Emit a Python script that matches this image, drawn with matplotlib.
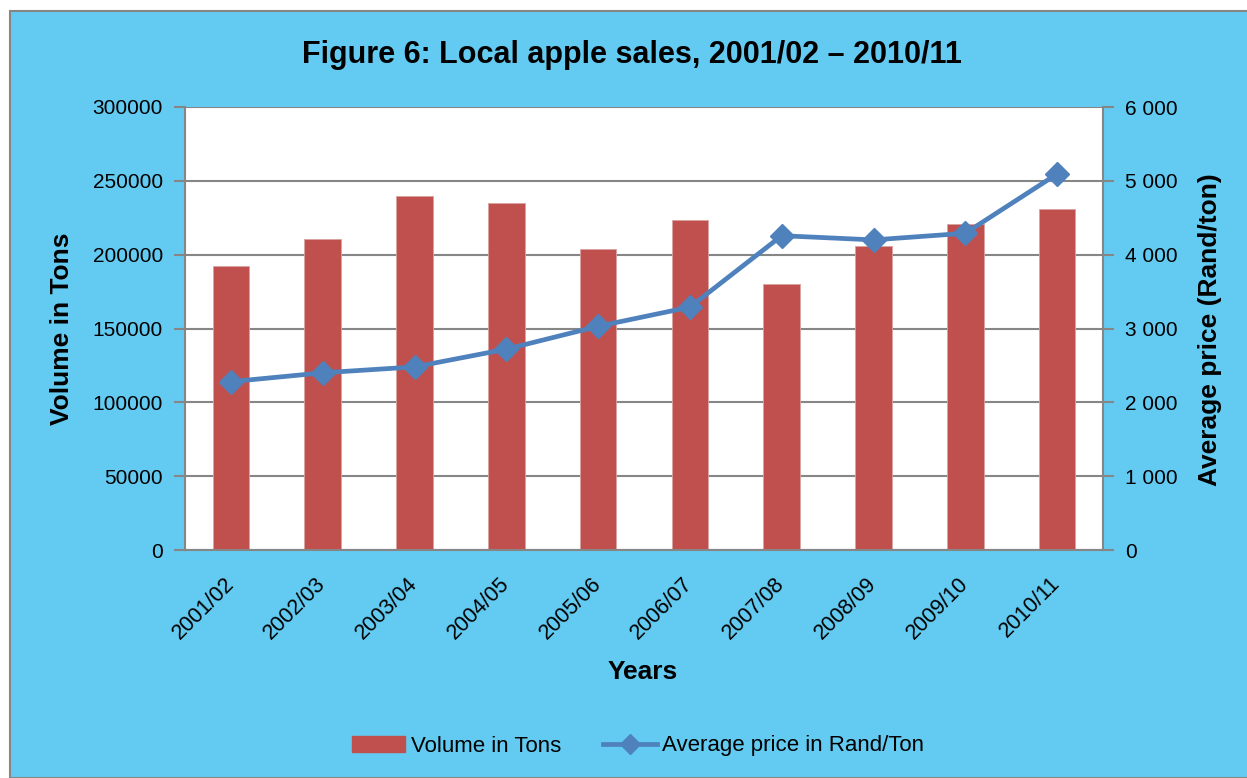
import matplotlib
matplotlib.use("Agg")
import matplotlib.pyplot as plt
from matplotlib.patches import Rectangle, Patch
from matplotlib.lines import Line2D
from matplotlib import font_manager
import numpy as np

years = ["2001/02", "2002/03", "2003/04", "2004/05", "2005/06",
         "2006/07", "2007/08", "2008/09", "2009/10", "2010/11"]
volume = [192300, 210400, 239700, 235200, 203800,
          223500, 180300, 205700, 220800, 231100]
price = [2280, 2400, 2480, 2720, 3030, 3290, 4257, 4200, 4290, 5093]
vol_ticks = [0, 50000, 100000, 150000, 200000, 250000, 300000]
price_ticks = [0, 1000, 2000, 3000, 4000, 5000, 6000]
price_tick_labels = ["0", "1 000", "2 000", "3 000", "4 000", "5 000", "6 000"]

names = {f.name for f in font_manager.fontManager.ttflist}
fam = ["Liberation Sans Narrow"] if "Liberation Sans Narrow" in names else ["Liberation Sans"]
plt.rcParams['font.family'] = fam + ["DejaVu Sans"]

BG = "#63CBF2"
RED = "#C0504D"
BLUE = "#4F81BD"
GRID = "#868686"

W, H = 1247, 778
fig = plt.figure(figsize=(W / 100, H / 100), dpi=100)
fig.patch.set_facecolor("white")
fig.add_artist(Rectangle((10 / W, 0), 1 - 10 / W + 0.01, 1 - 11 / H, transform=fig.transFigure,
                         facecolor=BG, edgecolor=GRID, linewidth=1.5, zorder=0))

ax = fig.add_axes([185 / W, 1 - 550 / H, (1103 - 185) / W, (550 - 107) / H])
ax.set_facecolor("white")
x = np.arange(len(years))
ax.bar(x, volume, width=0.4, color=RED, edgecolor="#D9A3A1", linewidth=0.6, zorder=2)
ax.set_xlim(-0.5, len(years) - 0.5)
ax.set_ylim(0, 300000)
ax.set_yticks(vol_ticks)
ax.set_yticklabels([str(v) for v in vol_ticks], fontsize=15)
ax.yaxis.grid(True, color=GRID, linewidth=1.5, zorder=1)
ax.set_axisbelow(True)
ax.set_xticks(x)
ax.set_xticklabels(years, fontsize=15.5, rotation=45, ha="right", va="center",
                   rotation_mode="anchor")
ax.tick_params(axis="x", length=0, pad=22)
ax.tick_params(axis="y", length=8, color=GRID, width=1.5, pad=8)
for s in ["top", "right"]:
    ax.spines[s].set_visible(False)
for s in ["left", "bottom"]:
    ax.spines[s].set_color(GRID)
    ax.spines[s].set_linewidth(1.5)

ax2 = ax.twinx()
ax2.plot(x, price, color=BLUE, linewidth=3.4, marker="D", markersize=12,
         markerfacecolor=BLUE, markeredgecolor=BLUE, zorder=3)
ax2.set_ylim(0, 6000)
ax2.set_yticks(price_ticks)
ax2.set_yticklabels(price_tick_labels, fontsize=15)
ax2.tick_params(axis="y", length=8, color=GRID, width=1.5, pad=8)
for s in ["top", "left", "bottom"]:
    ax2.spines[s].set_visible(False)
ax2.spines["right"].set_color(GRID)
ax2.spines["right"].set_linewidth(1.5)

fig.text(632 / W, 1 - 55 / H, "Figure 6: Local apple sales, 2001/02 \u2013 2010/11",
         fontsize=22, fontweight="bold", ha="center", va="center")
fig.text(62 / W, 1 - 329 / H, "Volume in Tons", fontsize=19, fontweight="bold",
         rotation=90, ha="center", va="center")
fig.text(1210 / W, 1 - 330 / H, "Average price (Rand/ton)", fontsize=19, fontweight="bold",
         rotation=90, ha="center", va="center")
fig.text(643 / W, 1 - 672 / H, "Years", fontsize=19, fontweight="bold",
         ha="center", va="center")

handles = [Patch(facecolor=RED, edgecolor=RED),
           Line2D([0], [0], color=BLUE, linewidth=3.4, marker="D", markersize=10)]
fig.legend(handles, ["Volume in Tons", "Average price in Rand/Ton"],
           loc="center", bbox_to_anchor=(638 / W, 1 - 746 / H), ncol=2, frameon=False,
           fontsize=16, handlelength=2.4, handletextpad=0.25, columnspacing=1.9)

fig.savefig("out.png", dpi=100, facecolor=fig.get_facecolor())
